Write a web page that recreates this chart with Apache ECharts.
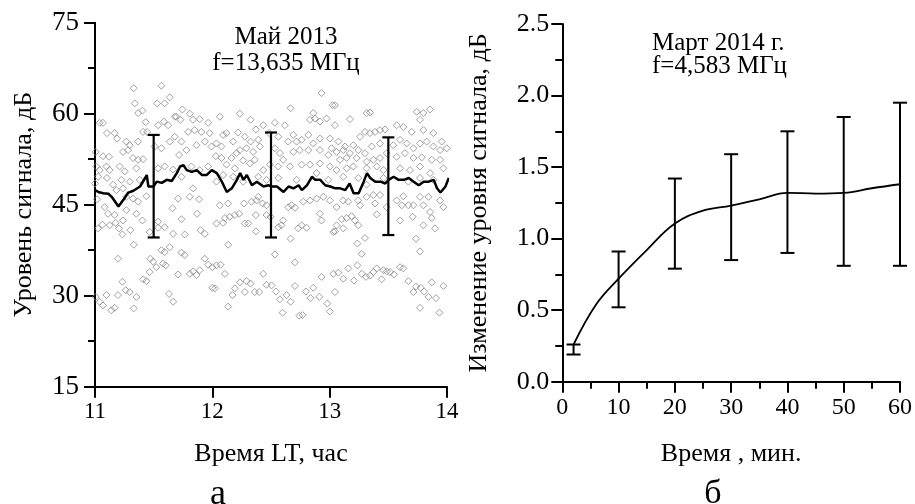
<!DOCTYPE html>
<html><head><meta charset="utf-8">
<script src="https://cdn.jsdelivr.net/npm/echarts@6/dist/echarts.min.js"></script>
<style>html,body{margin:0;padding:0;background:#fff}#c{width:915px;height:504px}</style>
</head><body><div id="c"></div>
<script>
// ---------- Panel а : scatter of signal level ----------
const leftXTicks = [11, 12, 13, 14];
const leftYTicks = [15, 30, 45, 60, 75];
const scatterPoints = [
[11.33,64.2],[11.566,64.6],[11.339,61.7],[11.529,61.7],[11.594,61.7],[11.637,62.7],[11.367,60.1],[11.404,60.5],[11.745,60.7],[11.808,60.0],
[11.694,59.5],[11.04,58.5],[11.068,58.5],[11.432,58.6],[11.538,58.1],[11.586,58.7],[11.623,58.1],[11.68,59.5],[11.728,59.0],[11.836,59.0],
[11.893,59.1],[11.964,58.5],[11.102,56.8],[11.168,56.8],[11.41,57.0],[11.444,57.0],[11.188,55.9],[11.267,55.4],[11.296,54.8],[11.367,55.4],
[11.566,54.3],[11.637,55.4],[11.68,56.2],[11.737,55.4],[11.794,57.0],[11.85,57.3],[11.907,57.0],[11.978,56.8],[11.006,53.7],[11.068,53.0],
[11.12,52.9],[11.239,53.7],[11.282,54.0],[11.324,52.7],[11.367,52.4],[11.41,52.5],[11.509,54.6],[11.717,53.2],[11.779,54.0],[11.865,54.8],
[11.936,55.4],[11.993,54.6],[11.011,51.3],[11.04,50.7],[11.097,51.3],[11.125,50.7],[11.21,51.3],[11.253,50.5],[11.353,51.0],[11.026,49.6],
[11.102,49.4],[11.0,48.5],[11.154,48.3],[11.225,49.1],[11.296,48.8],[11.381,49.1],[11.538,51.0],[11.594,51.3],[11.666,50.8],[11.737,49.6],
[11.822,51.3],[11.893,50.7],[11.964,51.3],[11.836,47.7],[11.182,47.4],[11.239,47.7],
[11.017,45.9],[11.083,44.6],[11.111,43.5],[11.168,43.3],[11.026,41.1],[11.063,41.7],[11.125,41.6],[11.176,42.0],[11.205,41.1],[11.239,42.4],
[11.233,40.1],[11.267,44.1],[11.267,46.3],[11.324,46.0],[11.367,45.5],[11.353,43.5],[11.404,42.4],[11.438,46.4],[11.302,40.8],[11.466,40.5],
[11.538,42.2],[11.538,41.2],[11.594,41.3],[11.666,40.2],[11.765,40.1],[11.708,46.0],[11.808,46.3],[11.887,45.9],[11.66,44.4],[11.737,42.6],
[11.87,43.5],[11.899,40.8],[11.936,40.2],[11.33,38.4],[11.566,37.5],[11.594,37.2],[11.637,38.0],[11.737,37.1],[11.765,36.7],[11.196,36.1],
[11.472,36.1],[11.495,35.6],[11.523,34.7],[11.58,35.3],[11.603,35.0],[11.466,33.9],[11.708,33.5],[11.808,33.6],[11.836,34.0],[11.865,33.4],
[11.893,34.2],[11.936,36.1],[11.964,35.1],[12.0,34.7],[11.41,32.7],[11.438,32.4],[11.233,32.3],[11.262,30.9],[11.296,30.6],[11.196,30.1],
[11.097,30.1],[11.353,29.8],[11.006,29.8],[11.04,29.0],[11.068,28.4],[11.139,27.6],[11.168,28.0],[11.33,27.9],[11.631,30.3],[11.666,29.0],[12.0,31.3],
[12.931,63.4],[12.667,60.9],[12.235,60.0],[12.064,59.5],[12.326,59.0],[12.434,58.1],[12.533,58.5],[12.371,57.4],[12.485,56.8],[12.618,58.1],
[12.86,60.1],[12.832,59.0],[12.874,59.2],[12.917,58.7],[12.974,59.2],[13.025,61.4],[12.121,56.8],[12.092,56.5],[12.22,56.9],[12.277,56.2],
[12.326,55.4],[12.391,55.7],[12.178,55.4],[12.035,55.1],[12.078,54.6],[12.235,54.0],[12.291,54.3],[12.348,53.7],[12.562,56.2],[12.647,55.4],
[12.69,56.5],[12.718,55.4],[12.761,55.7],[12.818,56.5],[12.86,55.1],[12.917,55.9],[13.002,55.9],[12.03,53.0],[12.078,52.7],[12.163,52.7],
[12.206,53.5],[12.263,52.3],[12.405,54.6],[12.533,54.3],[12.576,53.5],[12.604,52.4],[12.69,53.7],[12.746,54.0],[12.818,54.0],[12.917,54.0],
[12.988,53.2],[13.017,54.3],[12.121,51.6],[12.192,51.0],[12.32,51.8],[12.434,50.7],[12.491,51.6],[12.562,51.3],[12.661,51.3],[12.761,51.6],
[12.832,51.6],[12.917,51.8],[13.002,51.3],[12.391,49.6],[12.462,49.1],[12.562,49.4],[12.718,49.1],[12.889,50.2],[12.988,49.1],[12.178,49.6],
[12.092,49.9],[12.263,48.8],[12.035,48.8],[12.362,52.4],
[12.064,44.9],[12.135,45.2],[12.269,45.2],[12.334,45.5],[12.377,45.7],[12.428,45.2],[12.462,44.9],[12.391,46.3],[12.149,43.0],[12.192,43.3],
[12.229,43.5],[12.107,42.8],[12.035,41.9],[12.092,42.0],[12.277,41.9],[12.306,41.9],[12.371,43.3],[12.462,43.3],[12.496,43.0],[12.562,41.3],
[12.604,42.4],[12.59,41.6],[12.647,44.6],[12.704,44.5],[12.675,44.9],[12.775,45.5],[12.832,45.7],[12.889,46.0],[12.946,46.3],[13.002,45.7],
[12.917,43.5],[12.931,42.4],[12.732,41.1],[12.761,41.6],[12.803,41.2],[12.371,40.6],[12.667,39.4],[13.031,40.5],[12.135,38.4],[12.533,36.8],
[12.704,35.5],[12.035,35.0],[12.07,35.1],[12.107,33.6],[12.434,33.6],[12.235,32.2],[12.291,32.4],[12.326,32.0],[12.462,31.8],[12.505,31.7],
[12.704,31.6],[12.931,33.1],[13.031,33.6],[12.021,31.2],[12.192,31.2],[12.172,30.1],[12.277,30.6],[12.362,30.6],[12.399,30.6],[12.542,30.7],
[12.633,30.1],[12.576,29.4],[12.667,29.0],[12.798,30.7],[12.86,31.3],[12.837,29.6],[12.911,29.8],[12.98,28.7],[13.002,27.4],[12.599,27.2],
[12.741,26.7],[12.769,26.8],[12.135,28.2],
[14.004,62.4],[13.045,61.4],[13.315,60.1],[13.344,60.2],[13.173,59.1],[13.742,60.3],[13.799,60.1],[13.856,60.7],[13.77,59.0],[13.045,58.1],
[13.571,58.1],[13.628,57.8],[13.699,57.0],[13.799,57.3],[13.884,56.8],[14.012,56.2],[13.955,55.4],[13.074,55.4],[13.131,54.6],[13.202,54.8],
[13.259,56.2],[13.301,57.0],[13.344,56.8],[13.387,57.0],[13.429,57.3],[13.472,57.4],[13.059,53.7],[13.116,54.0],[13.173,53.5],[13.244,54.0],
[13.301,53.5],[13.358,54.6],[13.429,55.1],[13.543,54.8],[13.6,55.7],[13.657,55.1],[13.714,54.3],[13.77,55.1],[13.827,55.4],[13.884,54.6],
[13.941,54.0],[13.998,54.3],[13.088,52.4],[13.145,52.7],[13.23,52.7],[13.315,52.1],[13.372,52.4],[13.429,52.7],[13.486,53.5],[13.571,52.9],
[13.642,53.5],[13.714,52.7],[13.785,52.8],[13.87,52.4],[13.941,52.4],[14.012,52.9],[13.059,50.7],[13.145,51.0],[13.202,51.3],[13.315,51.0],
[13.401,51.3],[13.458,50.7],[13.6,51.0],[13.685,50.7],[13.77,51.3],[13.856,50.2],[13.969,51.0],[14.026,50.5],[13.116,49.6],[13.244,49.4],
[13.458,49.4],[13.671,48.8],[13.77,49.4],[13.884,49.1],[14.03,49.4],[13.315,48.3],
[13.059,44.6],[13.116,45.7],[13.159,45.5],[13.244,45.7],[13.259,44.9],[13.315,46.3],[13.372,46.6],[13.429,46.6],[13.387,45.2],[13.401,43.4],
[13.486,44.6],[13.571,45.7],[13.628,46.4],[13.614,44.9],[13.671,44.9],[13.714,44.9],[13.77,46.3],[13.842,46.3],[13.799,44.9],[13.856,43.8],
[13.87,42.8],[13.941,45.7],[13.969,44.6],[13.059,41.6],[13.102,42.6],[13.145,42.8],[13.187,43.1],[13.216,42.4],[13.244,41.6],[13.116,41.1],
[13.045,40.6],[13.6,42.4],[13.708,43.0],[13.799,41.6],[13.898,41.1],[14.012,39.7],[13.736,39.4],[13.301,39.5],[13.236,38.6],[13.273,36.9],
[13.77,37.3],[13.074,33.8],[13.116,32.8],[13.159,34.5],[13.207,32.5],[13.236,35.0],[13.273,33.6],[13.31,33.1],[13.344,33.3],[13.372,33.9],
[13.401,34.5],[13.458,34.2],[13.486,34.0],[13.515,33.9],[13.549,33.5],[13.6,34.7],[13.628,34.5],[13.443,32.7],[13.671,32.4],[13.736,31.5],
[13.714,30.6],[13.776,31.3],[13.805,30.7],[13.87,32.2],[13.842,29.8],[13.907,29.6],[13.969,31.6],[14.012,29.1],[14.03,29.8],[13.045,30.6],
[13.77,28.0],[13.935,27.2]
];
const meanTime = [11.0,11.028,11.071,11.114,11.142,11.2,11.242,11.284,11.327,11.384,11.427,11.441,11.455,11.498,11.526,11.569,11.611,11.654,11.697,11.725,
11.754,11.782,11.825,11.867,11.91,11.953,11.995,12.038,12.081,12.123,12.166,12.209,12.237,12.266,12.294,12.337,12.379,12.436,12.479,12.507,
12.55,12.607,12.65,12.692,12.735,12.763,12.806,12.849,12.877,12.92,12.962,13.005,13.048,13.09,13.133,13.17,13.204,13.247,13.29,13.318,
13.346,13.389,13.432,13.474,13.503,13.545,13.588,13.631,13.674,13.716,13.759,13.801,13.844,13.887,13.915,13.944,13.987,14.015];
const meanLevel = [47.4,47.1,46.9,46.8,46.3,44.7,45.8,47.0,47.3,48.0,49.4,49.9,48.0,48.0,48.8,48.6,49.1,48.9,50.2,51.3,
51.5,50.7,50.4,50.7,49.9,49.9,50.7,50.2,48.8,47.1,47.7,49.1,50.2,49.1,49.9,48.2,48.8,48.0,48.2,48.0,
48.0,47.1,48.0,47.7,48.2,47.4,48.2,49.6,49.1,49.1,48.2,48.0,47.7,47.7,47.4,48.5,46.9,46.9,48.8,50.2,
49.4,48.8,48.8,48.5,49.1,49.6,49.1,49.1,49.4,48.8,48.2,48.8,48.8,49.1,47.7,47.0,48.0,49.4];
const leftErrX = [11.5, 12.5, 13.5];
const leftErrLow = [39.6, 39.6, 40.0];
const leftErrHigh = [56.5, 56.9, 56.1];

// ---------- Panel б : change of signal level ----------
const rightXTicks = [0, 10, 20, 30, 40, 50, 60];
const rightYTicks = [0.0, 0.5, 1.0, 1.5, 2.0, 2.5];
const curveTime = [2, 6, 10, 15, 20, 25, 30, 35, 40, 45, 50, 55, 60];
const curveValue = [0.26, 0.54, 0.72, 0.92, 1.105, 1.195, 1.23, 1.275, 1.32, 1.315, 1.32, 1.352, 1.38];
const rightErrX = [2, 10, 20, 30, 40, 50, 60];
const rightErrLow = [0.19, 0.52, 0.79, 0.85, 0.90, 0.81, 0.81];
const rightErrHigh = [0.26, 0.91, 1.42, 1.59, 1.75, 1.85, 1.95];

const FONT = "'Liberation Serif','Times New Roman',serif";
const chart = echarts.init(document.getElementById('c'), null, {renderer: 'canvas'});

function errRender(capHalf, lw) {
  return function (params, api) {
    const x = api.value(0), lo = api.value(1), hi = api.value(2);
    const a = api.coord([x, lo]), b = api.coord([x, hi]);
    const st = {stroke: '#000', lineWidth: lw};
    return {type: 'group', children: [
      {type: 'line', shape: {x1: a[0], y1: a[1], x2: b[0], y2: b[1]}, style: st},
      {type: 'line', shape: {x1: a[0] - capHalf, y1: a[1], x2: a[0] + capHalf, y2: a[1]}, style: st},
      {type: 'line', shape: {x1: b[0] - capHalf, y1: b[1], x2: b[0] + capHalf, y2: b[1]}, style: st}
    ]};
  };
}

const axisLineStyle = {show: true, lineStyle: {color: '#000', width: 2}};
function mkAxis(o) {
  return Object.assign({
    type: 'value', splitLine: {show: false},
    axisLine: axisLineStyle,
    axisTick: {show: true, length: 11, lineStyle: {color: '#000', width: 2}},
    nameTextStyle: {fontFamily: FONT, color: '#000', fontSize: 26},
  }, o);
}

const option = {
  animation: false,
  backgroundColor: '#fff',
  grid: [
    {left: 95, top: 22.7, width: 352, height: 364},
    {left: 562.3, top: 24, width: 338.7, height: 357.7}
  ],
  xAxis: [
    mkAxis({gridIndex: 0, min: leftXTicks[0], max: leftXTicks[leftXTicks.length - 1], interval: 1,
      axisLabel: {fontFamily: FONT, color: '#000', fontSize: 23, margin: 14},
      name: 'Время LT, час', nameLocation: 'middle', nameGap: 54}),
    mkAxis({gridIndex: 1, min: rightXTicks[0], max: rightXTicks[rightXTicks.length - 1], interval: 10,
      minorTick: {show: true, splitNumber: 2, length: 7, lineStyle: {color: '#000', width: 2}},
      axisLabel: {fontFamily: FONT, color: '#000', fontSize: 24, margin: 14},
      name: 'Время , мин.', nameLocation: 'middle', nameGap: 59})
  ],
  yAxis: [
    mkAxis({gridIndex: 0, min: leftYTicks[0], max: leftYTicks[leftYTicks.length - 1], interval: 15,
      minorTick: {show: true, splitNumber: 2, length: 7, lineStyle: {color: '#000', width: 2}},
      axisLabel: {fontFamily: FONT, color: '#000', fontSize: 27, margin: 16},
      name: 'Уровень сигнала, дБ', nameLocation: 'middle', nameGap: 58}),
    mkAxis({gridIndex: 1, min: rightYTicks[0], max: rightYTicks[rightYTicks.length - 1], interval: 0.5,
      minorTick: {show: true, splitNumber: 2, length: 7, lineStyle: {color: '#000', width: 2}},
      axisLabel: {fontFamily: FONT, color: '#000', fontSize: 26, margin: 13, formatter: v => v.toFixed(1)},
      name: 'Изменение уровня сигнала, дБ', nameLocation: 'middle', nameGap: 70})
  ],
  series: [
    {type: 'scatter', xAxisIndex: 0, yAxisIndex: 0, data: scatterPoints, symbol: 'diamond', symbolSize: 7,
      itemStyle: {color: 'rgba(255,255,255,0)', borderColor: '#8a8a8a', borderWidth: 1}, z: 1, silent: true},
    {type: 'line', xAxisIndex: 0, yAxisIndex: 0, data: meanTime.map((t, i) => [t, meanLevel[i]]), showSymbol: false,
      lineStyle: {color: '#000', width: 2.5}, z: 3},
    {type: 'custom', xAxisIndex: 0, yAxisIndex: 0, data: leftErrX.map((t, i) => [t, leftErrLow[i], leftErrHigh[i]]),
      renderItem: errRender(6, 2.2), z: 4},
    {type: 'line', xAxisIndex: 1, yAxisIndex: 1, data: curveTime.map((t, i) => [t, curveValue[i]]), showSymbol: false,
      smooth: 0.4, lineStyle: {color: '#000', width: 1.8}, z: 3},
    {type: 'custom', xAxisIndex: 1, yAxisIndex: 1, data: rightErrX.map((t, i) => [t, rightErrLow[i], rightErrHigh[i]]),
      renderItem: errRender(7, 2), z: 4}
  ],
  graphic: [
    {type: 'text', x: 286, y: 37, style: {text: 'Май 2013', font: '25px ' + FONT, fill: '#000', textAlign: 'center', textVerticalAlign: 'middle'}},
    {type: 'text', x: 286, y: 63, style: {text: 'f=13,635 МГц', font: '25px ' + FONT, fill: '#000', textAlign: 'center', textVerticalAlign: 'middle'}},
    {type: 'text', x: 652, y: 43, style: {text: 'Март 2014 г.', font: '25px ' + FONT, fill: '#000', textAlign: 'left', textVerticalAlign: 'middle'}},
    {type: 'text', x: 652, y: 66, style: {text: 'f=4,583 МГц', font: '25px ' + FONT, fill: '#000', textAlign: 'left', textVerticalAlign: 'middle'}},
    {type: 'text', x: 218, y: 495, style: {text: 'а', font: '36px ' + FONT, fill: '#000', textAlign: 'center', textVerticalAlign: 'middle'}},
    {type: 'text', x: 713, y: 494, style: {text: 'б', font: '34px ' + FONT, fill: '#000', textAlign: 'center', textVerticalAlign: 'middle'}}
  ]
};
chart.setOption(option);
</script>
</body></html>
